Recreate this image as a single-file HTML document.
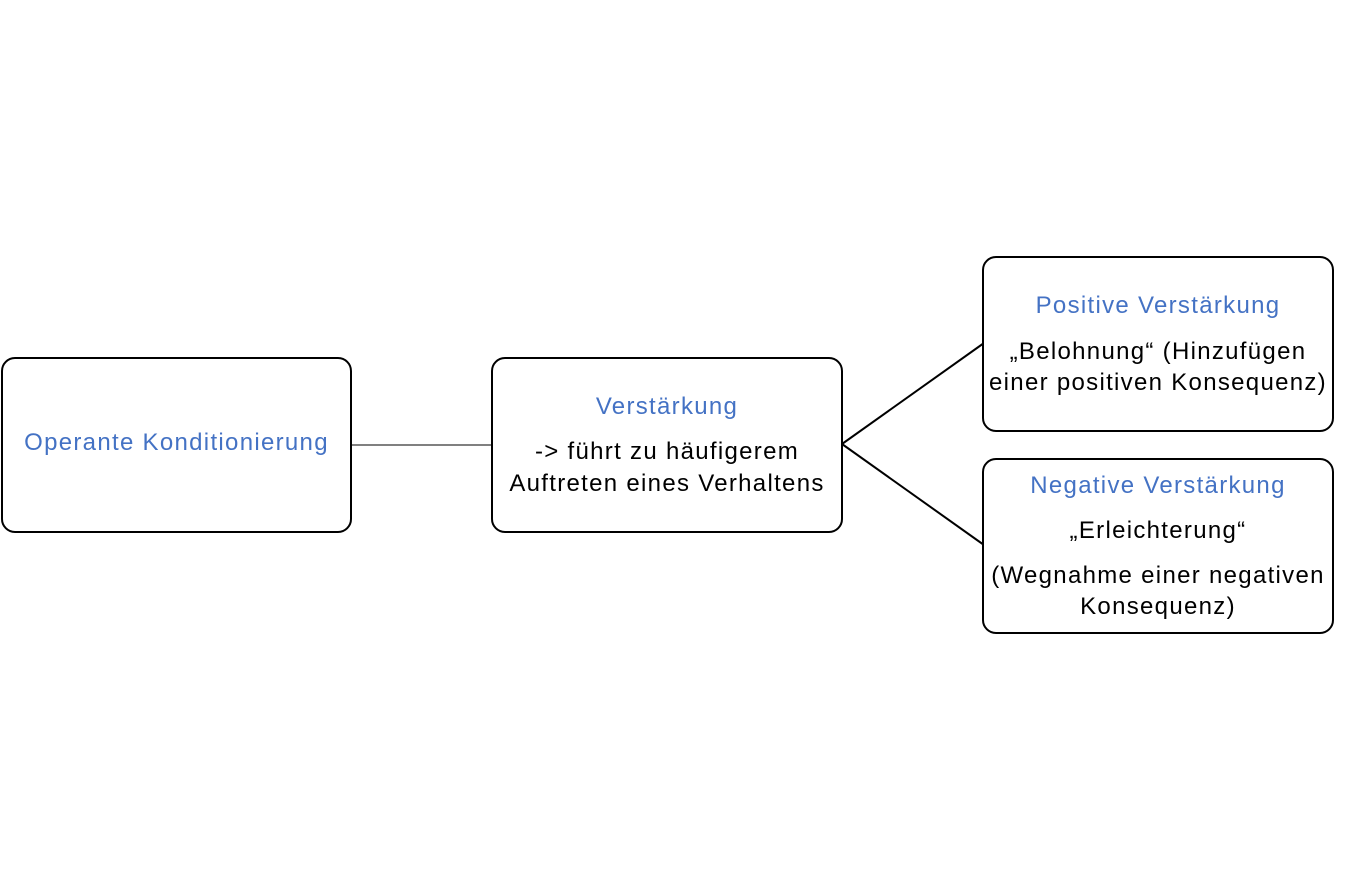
<!DOCTYPE html>
<html><head><meta charset="utf-8"><style>
body{margin:0;width:1350px;height:889px;background:#fff;position:relative;font-family:"Liberation Sans",sans-serif;overflow:hidden}
.b{position:absolute;box-sizing:border-box;border:2px solid #000;border-radius:14px;background:#fff}
.t{position:absolute;left:-20px;right:-20px;text-align:center;white-space:nowrap;font-size:24px;letter-spacing:1.3px;line-height:26px;color:#000}
.blue{color:#4472C4}
</style></head><body>
<svg width="1350" height="889" style="position:absolute;left:0;top:0">
<line x1="351" y1="445" x2="492" y2="445" stroke="#000" stroke-width="1"/>
<line x1="842" y1="444" x2="984" y2="343" stroke="#000" stroke-width="2"/>
<line x1="842" y1="444" x2="984" y2="545" stroke="#000" stroke-width="2"/>
</svg>
<div class="b" style="left:1px;top:357px;width:351px;height:176px">
<div class="t blue" style="top:71px">Operante Konditionierung</div></div>
<div class="b" style="left:491px;top:357px;width:352px;height:176px">
<div class="t blue" style="top:35px">Verstärkung</div>
<div class="t" style="top:80px">-&gt; führt zu häufigerem</div>
<div class="t" style="top:112px">Auftreten eines Verhaltens</div></div>
<div class="b" style="left:982px;top:256px;width:352px;height:176px">
<div class="t blue" style="top:35px">Positive Verstärkung</div>
<div class="t" style="top:81px">„Belohnung“ (Hinzufügen</div>
<div class="t" style="top:112px">einer positiven Konsequenz)</div></div>
<div class="b" style="left:982px;top:458px;width:352px;height:176px">
<div class="t blue" style="top:13px">Negative Verstärkung</div>
<div class="t" style="top:58px">„Erleichterung“</div>
<div class="t" style="top:103px">(Wegnahme einer negativen</div>
<div class="t" style="top:134px">Konsequenz)</div></div>
</body></html>
